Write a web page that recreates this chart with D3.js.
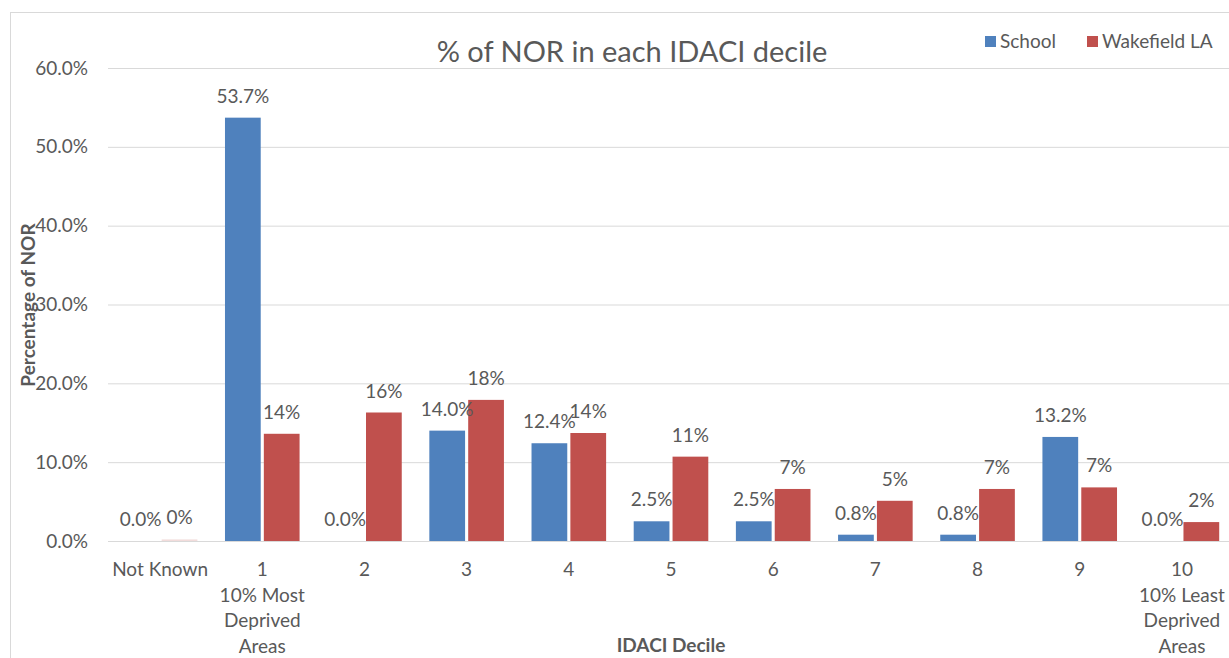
<html>
<head>
  <script src="https://d3js.org/d3.v7.min.js"></script>
  <style>
    body { margin: 0; background: white; }
    text { font-family: Lato, "Open Sans", sans-serif; fill: #595959; }
    .grid line { stroke: #d9d9d9; stroke-width: 1px; }
    .grid path { display: none; }
  </style>
</head>
<body>
<svg id="chart" width="1229" height="658"></svg>
<script>
  // data
  const categories = ["Not Known", "1", "2", "3", "4", "5", "6", "7", "8", "9", "10"];
  const subLabels = [[], ["10% Most", "Deprived", "Areas"], [], [], [], [], [], [], [], [], ["10% Least", "Deprived", "Areas"]];
  const school = [0.0, 53.7, 0.0, 14.0, 12.4, 2.5, 2.5, 0.8, 0.8, 13.2, 0.0];
  const wakefield = [0.2, 13.6, 16.3, 17.9, 13.7, 10.7, 6.6, 5.1, 6.6, 6.8, 2.4];
  const wakefieldLabels = ["0%", "14%", "16%", "18%", "14%", "11%", "7%", "5%", "7%", "7%", "2%"];
  const yTicks = [0, 10, 20, 30, 40, 50, 60];
  const seriesNames = ["School", "Wakefield LA"];
  const colors = ["#4f81bd", "#c0504d"];

  const svg = d3.select("#chart");
  const plot = { left: 109, right: 1233, top: 68, bottom: 541 };

  // chart frame
  svg.append("rect")
    .attr("x", 10.5).attr("y", 12.5)
    .attr("width", 1240).attr("height", 700)
    .attr("fill", "white").attr("stroke", "#d9d9d9");

  const x = d3.scaleBand().domain(categories)
    .range([plot.left, plot.right])
    .paddingInner(0.27).paddingOuter(0.135);
  const xSub = d3.scaleBand().domain(seriesNames)
    .range([0, x.bandwidth()]).paddingInner(0.08);
  const y = d3.scaleLinear().domain([0, 60]).range([plot.bottom, plot.top]);

  // gridlines + y labels
  const yAxis = svg.append("g").attr("class", "grid")
    .attr("transform", `translate(${plot.left - 1},0)`)
    .call(d3.axisLeft(y).tickValues(yTicks)
      .tickSize(-(plot.right - plot.left))
      .tickPadding(20)
      .tickFormat(d => d3.format(".1f")(d) + "%"));
  yAxis.selectAll("text").style("font-size", "19px").attr("fill", "#595959");

  const rows = categories.map((c, i) => ({ cat: c, vals: [school[i], wakefield[i]], labs: [school[i].toFixed(1) + "%", wakefieldLabels[i]] }));

  const groups = svg.selectAll("g.cat").data(rows).join("g")
    .attr("class", "cat")
    .attr("transform", d => `translate(${x(d.cat)},0)`);

  groups.selectAll("rect").data(d => d.vals.map((v, k) => ({ v, k })))
    .join("rect")
    .attr("x", d => xSub(seriesNames[d.k]))
    .attr("width", xSub.bandwidth())
    .attr("y", d => y(d.v))
    .attr("height", d => y(0) - y(d.v))
    .attr("fill", d => d.k === 1 && d.v < 0.5 ? "#f2dcdb" : colors[d.k]);

  groups.selectAll("text.lab").data(d => d.vals.map((v, k) => ({ v, k, t: d.labs[k] })))
    .join("text")
    .attr("class", "lab")
    .attr("x", d => xSub(seriesNames[d.k]) + xSub.bandwidth() / 2)
    .attr("y", d => y(d.v) - 15)
    .attr("text-anchor", "middle")
    .style("font-size", "19px")
    .text(d => d.t);

  // baseline
  svg.append("line")
    .attr("x1", plot.left).attr("x2", plot.right)
    .attr("y1", y(0) + 0.5).attr("y2", y(0) + 0.5)
    .attr("stroke", "#d9d9d9");

  // x labels
  const xl = svg.selectAll("text.xl").data(categories).join("text")
    .attr("class", "xl")
    .attr("x", d => x(d) + x.bandwidth() / 2)
    .attr("y", 576)
    .attr("text-anchor", "middle")
    .style("font-size", "19px");
  xl.each(function (d, i) {
    const t = d3.select(this);
    [d].concat(subLabels[i]).forEach((line, j) => {
      t.append("tspan").attr("x", x(d) + x.bandwidth() / 2)
        .attr("dy", j === 0 ? 0 : 25.7).text(line);
    });
  });

  // title
  svg.append("text")
    .attr("x", 632).attr("y", 62)
    .attr("text-anchor", "middle")
    .style("font-size", "29px")
    .text("% of NOR in each IDACI decile");

  // axis titles
  svg.append("text")
    .attr("x", 671).attr("y", 652)
    .attr("text-anchor", "middle")
    .style("font-size", "19px").style("font-weight", "bold")
    .text("IDACI Decile");
  svg.append("text")
    .attr("transform", "translate(35,305) rotate(-90)")
    .attr("text-anchor", "middle")
    .style("font-size", "19px").style("font-weight", "bold")
    .text("Percentage of NOR");

  // legend
  const legendX = [985, 1087];
  const lg = svg.selectAll("g.legend").data(seriesNames).join("g")
    .attr("class", "legend")
    .attr("transform", (d, i) => `translate(${legendX[i]},36)`);
  lg.append("rect").attr("width", 11).attr("height", 11)
    .attr("fill", (d, i) => colors[i]);
  lg.append("text").attr("x", 15).attr("y", 12)
    .style("font-size", "19px").text(d => d);
</script>
</body>
</html>
